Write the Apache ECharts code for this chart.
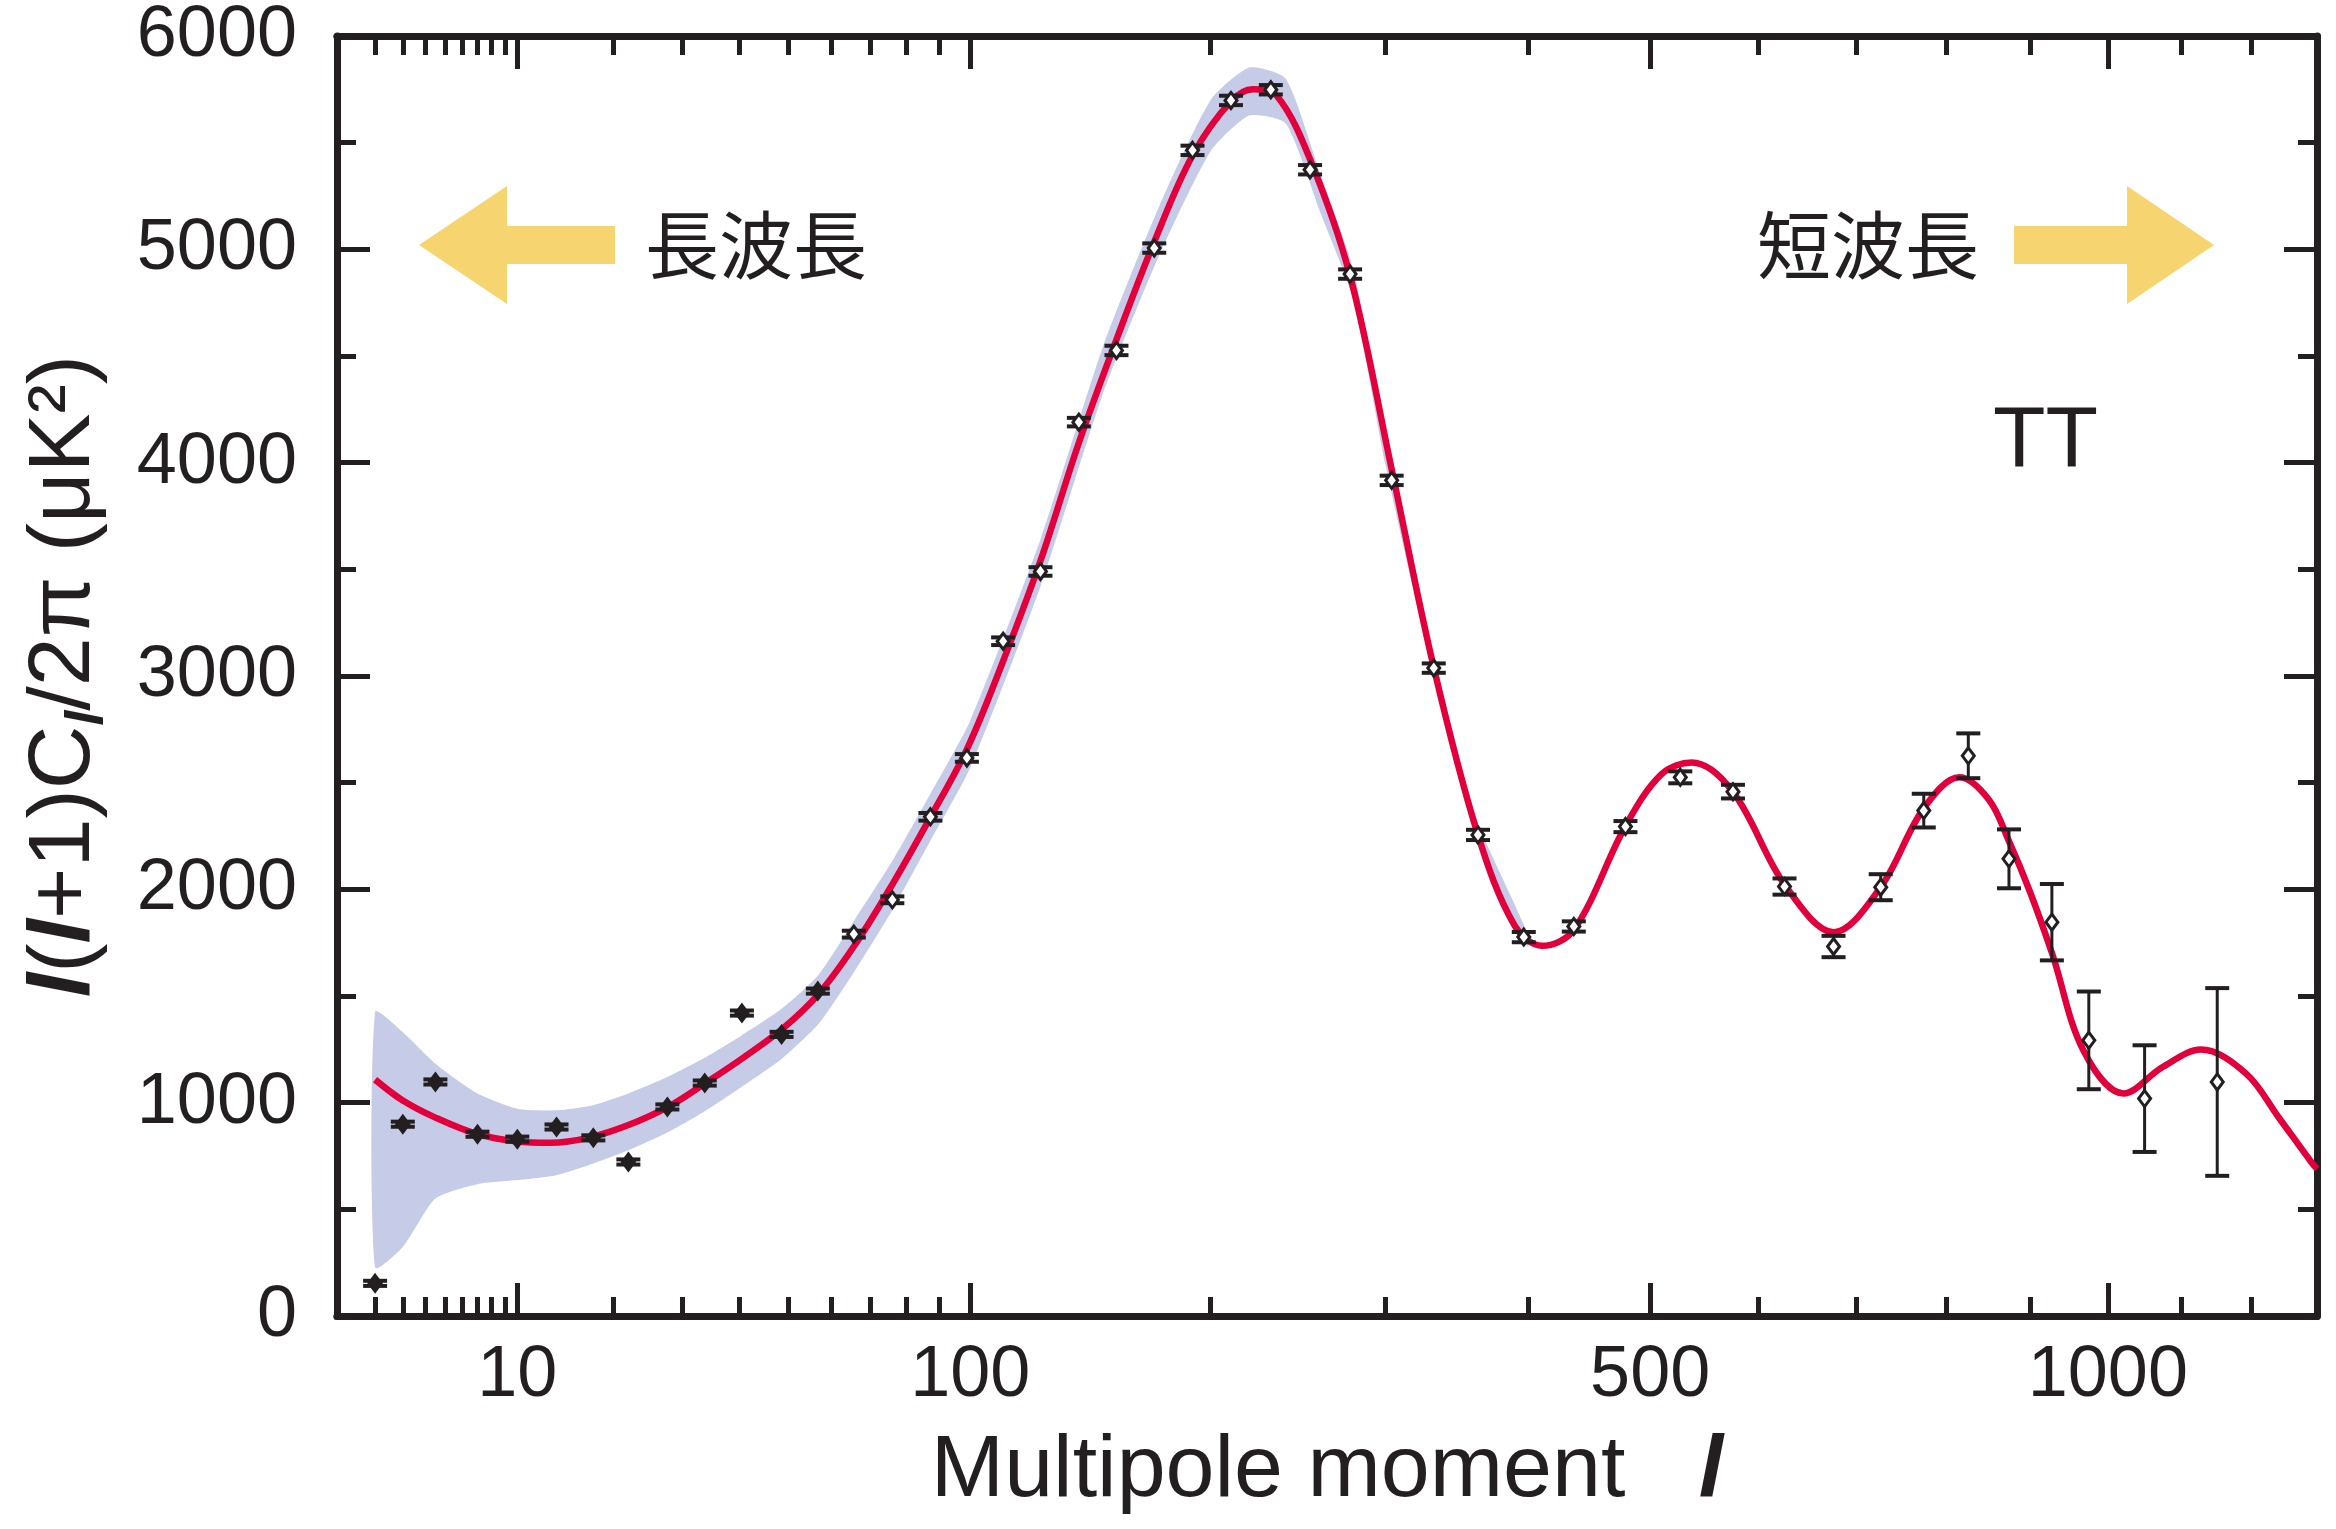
<!DOCTYPE html>
<html>
<head>
<meta charset="utf-8">
<script src="https://cdn.jsdelivr.net/npm/echarts@6/dist/echarts.min.js"></script>
<style>
html,body{margin:0;padding:0;background:#fff;}
#c{width:2336px;height:1529px;}
</style>
</head>
<body>
<div id="c"></div>
<script>
// ---- data ----
// binned TT data points: multipole l, l(l+1)Cl/2pi (uK^2), error
const ell   = [2, 3, 4.5, 7, 10, 13.6, 17.6, 22, 27.6, 33.7, 40.5, 48.6, 56.8, 65.7, 76.1, 87.3, 98.9, 111.3, 125, 140.1, 155.9, 172.8, 191, 210.4, 231.7, 253.9, 277.8, 304, 332, 363, 396.9, 436, 478.7, 526.7, 575.4, 625.6, 675.7, 726.1, 774, 825.5, 874.3, 927.6, 975, 1049.3, 1151];
const clTT  = [153, 899, 1097, 852, 829, 886, 835, 722, 980, 1092, 1420, 1320, 1523, 1790, 1951, 2340, 2616, 3163, 3490, 4190, 4526, 5006, 5464, 5698, 5748, 5373, 4884, 3917, 3037, 2255, 1776, 1826, 2294, 2525, 2458, 2013, 1732, 2010, 2369, 2626, 2143, 1846, 1292, 1019, 1097];
const errTT = [12, 12, 12, 12, 12, 12, 12, 12, 12, 12, 12, 12, 12, 16, 16, 18, 18, 18, 20, 20, 22, 22, 22, 22, 22, 22, 22, 22, 22, 24, 24, 24, 26, 28, 32, 38, 50, 61, 79, 105, 138, 179, 229, 250, 440];

// best-fit model curve
const modelL  = [2, 3, 4.5, 7, 10, 13, 17, 22, 28, 34, 41, 49, 57, 66, 76, 87, 99, 111, 125, 140, 156, 173, 191, 210, 222, 235, 254, 278, 304, 332, 363, 390, 411, 436, 479, 510, 537, 575, 626, 676, 726, 774, 815, 850, 874, 900, 928, 968, 1021, 1074, 1128, 1193, 1241, 1291, 1300];
const modelTT = [1108, 1010, 930, 852, 818, 812, 835, 895, 985, 1095, 1215, 1350, 1510, 1740, 2020, 2330, 2660, 3060, 3540, 4090, 4580, 5040, 5440, 5690, 5750, 5720, 5420, 4870, 3970, 3040, 2255, 1830, 1735, 1810, 2300, 2540, 2595, 2460, 2020, 1799, 2010, 2380, 2525, 2420, 2228, 1990, 1698, 1245, 1043, 1167, 1249, 1136, 933, 722, 690];

// cosmic-variance band
const bandL  = [2, 3, 4.5, 7, 10, 13.6, 17.6, 22, 27.6, 33.7, 40.5, 48.6, 57, 66, 76, 87, 100, 125, 150, 175, 200, 220, 240, 260, 280, 300, 330, 360, 400];
const bandLo = [228, 324, 551, 618, 637, 660, 715, 777, 860, 960, 1075, 1205, 1370, 1620, 1900, 2220, 2570, 3420, 4320, 4970, 5460, 5627, 5590, 5170, 4760, 3990, 3050, 2280, 1730];
const bandHi = [1425, 1330, 1183, 1043, 972, 964, 988, 1043, 1120, 1210, 1316, 1440, 1600, 1860, 2130, 2440, 2790, 3640, 4540, 5200, 5700, 5852, 5800, 5350, 4900, 4110, 3150, 2360, 1790];

// axis ticks
const xMajorTicks = [10, 100, 500, 1000];
const xMinorTicks = [2, 3, 4, 5, 6, 7, 8, 9, 20, 30, 40, 50, 60, 70, 80, 90, 200, 300, 400, 600, 700, 800, 900, 1100, 1200];
const xRange = [1, 1300];
const yRange = [0, 6000];
const yStep = 1000;

// ---- scale: the original plot uses an l^0.4 horizontal scale ----
const P = 0.4;
const tx = l => Math.pow(l, P);
const inv = v => Math.round(Math.pow(v, 1 / P));

const INK = '#231f20';
const FRAME_W = 7, TICK_W = 5, MAJ = 33, MIN = 19;
const SANS = '"Liberation Sans", Arial, Helvetica, sans-serif';
const CJK = '"Noto Sans CJK JP", sans-serif';

function xAx(pos, vals, len, labels) {
  return {
    type: 'value', position: pos, min: tx(xRange[0]), max: tx(xRange[1]),
    axisLine: { show: true, onZero: false, lineStyle: { color: INK, width: FRAME_W } },
    axisTick: { show: true, inside: true, length: len, customValues: vals.map(tx), lineStyle: { color: INK, width: TICK_W } },
    axisLabel: labels ? { show: true, customValues: vals.map(tx), formatter: v => String(inv(v)), fontSize: 72, fontFamily: SANS, color: INK, margin: 24 } : { show: false },
    splitLine: { show: false }
  };
}
function yAx(pos, labels) {
  return {
    type: 'value', position: pos, min: yRange[0], max: yRange[1], interval: yStep,
    axisLine: { show: true, onZero: false, lineStyle: { color: INK, width: FRAME_W } },
    axisTick: { show: true, inside: true, length: MAJ, lineStyle: { color: INK, width: TICK_W } },
    minorTick: { show: true, splitNumber: 2, length: MIN, lineStyle: { color: INK, width: TICK_W } },
    axisLabel: labels ? { show: true, formatter: v => String(v), fontSize: 72, fontFamily: SANS, color: INK, margin: 40 } : { show: false },
    splitLine: { show: false }, minorSplitLine: { show: false }
  };
}

const xAxes = [xAx('bottom', xMajorTicks, MAJ, true), xAx('bottom', xMinorTicks, MIN, false), xAx('top', xMajorTicks, MAJ, false), xAx('top', xMinorTicks, MIN, false)];
xAxes[0].name = '{n|Multipole moment   }{b|l}';
xAxes[0].nameLocation = 'middle';
xAxes[0].nameGap = 112;
xAxes[0].nameTextStyle = { rich: {
  n: { fontSize: 88, fontFamily: SANS, color: INK },
  b: { fontSize: 88, fontFamily: SANS, fontStyle: 'italic', fontWeight: 'bold', color: INK }
} };

const yAxes = [yAx('left', true), yAx('right', false)];
yAxes[0].name = '{b|l}{n|(}{b|l}{n|+1)C}{s|l}{n|/2π (μK²)}';
yAxes[0].nameLocation = 'middle';
yAxes[0].nameRotate = 90;
yAxes[0].nameGap = 222;
yAxes[0].nameTextStyle = { rich: {
  n: { fontSize: 88, fontFamily: SANS, color: INK, lineHeight: 100 },
  b: { fontSize: 88, fontFamily: SANS, fontStyle: 'italic', fontWeight: 'bold', color: INK, lineHeight: 100 },
  s: { fontSize: 54, fontFamily: SANS, fontStyle: 'italic', fontWeight: 'bold', color: INK, lineHeight: 54, verticalAlign: 'bottom' }
} };

const chart = echarts.init(document.getElementById('c'), null, { renderer: 'canvas' });

const option = {
  backgroundColor: '#fff',
  animation: false,
  grid: { left: 337, right: 19, top: 34, bottom: 213, containLabel: false },
  xAxis: xAxes,
  yAxis: yAxes,
  series: [
    {
      name: 'band', type: 'custom', xAxisIndex: 0, yAxisIndex: 0, z: 1, silent: true,
      data: [[tx(bandL[0]), bandLo[0]]],
      renderItem: function (params, api) {
        const up = bandL.map((l, i) => api.coord([tx(l), bandHi[i]]));
        const lo = bandL.map((l, i) => api.coord([tx(l), bandLo[i]])).reverse();
        return { type: 'polygon', shape: { points: up.concat(lo), smooth: 0.2 }, style: { fill: '#c6cbe7', stroke: null } };
      }
    },
    {
      name: 'model', type: 'line', xAxisIndex: 0, yAxisIndex: 0, z: 2, silent: true,
      data: modelL.map((l, i) => [tx(l), modelTT[i]]),
      smooth: 0.35, showSymbol: false, symbol: 'none',
      lineStyle: { color: '#e2003c', width: 6.5 }
    },
    {
      name: 'data', type: 'custom', xAxisIndex: 0, yAxisIndex: 0, z: 3, silent: true,
      data: ell.map((l, i) => [tx(l), clTT[i], errTT[i]]),
      renderItem: function (params, api) {
        const x = api.value(0), v = api.value(1), e = api.value(2);
        const c = api.coord([x, v]);
        const t = api.coord([x, v + e]);
        const b = api.coord([x, v - e]);
        const hw = 12;
        const filled = e < 15;
        const dw = 6, dh = 8;
        return {
          type: 'group',
          children: [
            { type: 'line', shape: { x1: c[0], y1: t[1], x2: c[0], y2: b[1] }, style: { stroke: INK, lineWidth: 3 } },
            { type: 'line', shape: { x1: c[0] - hw, y1: t[1], x2: c[0] + hw, y2: t[1] }, style: { stroke: INK, lineWidth: 4 } },
            { type: 'line', shape: { x1: c[0] - hw, y1: b[1], x2: c[0] + hw, y2: b[1] }, style: { stroke: INK, lineWidth: 4 } },
            { type: 'polygon', shape: { points: [[c[0], c[1] - dh], [c[0] + dw, c[1]], [c[0], c[1] + dh], [c[0] - dw, c[1]]] },
              style: { fill: filled ? INK : '#fff', stroke: INK, lineWidth: 3 } }
          ]
        };
      }
    }
  ],
  graphic: [
    { type: 'polygon', shape: { points: [[419, 245], [507, 186], [507, 226], [615, 226], [615, 264], [507, 264], [507, 304]] }, style: { fill: '#f6d570' }, z: 10 },
    { type: 'text', x: 645, y: 245, style: { text: '長波長', fontSize: 74, fontFamily: CJK, fill: INK, align: 'left', verticalAlign: 'middle' }, z: 10 },
    { type: 'polygon', shape: { points: [[2214, 245], [2127, 186], [2127, 226], [2014, 226], [2014, 264], [2127, 264], [2127, 304]] }, style: { fill: '#f6d570' }, z: 10 },
    { type: 'text', x: 1757, y: 245, style: { text: '短波長', fontSize: 74, fontFamily: CJK, fill: INK, align: 'left', verticalAlign: 'middle' }, z: 10 },
    { type: 'text', x: 1993, y: 442, style: { text: 'TT', fontSize: 86, fontFamily: SANS, fill: INK, align: 'left', verticalAlign: 'middle' }, z: 10 }
  ]
};
chart.setOption(option);
</script>
</body>
</html>
